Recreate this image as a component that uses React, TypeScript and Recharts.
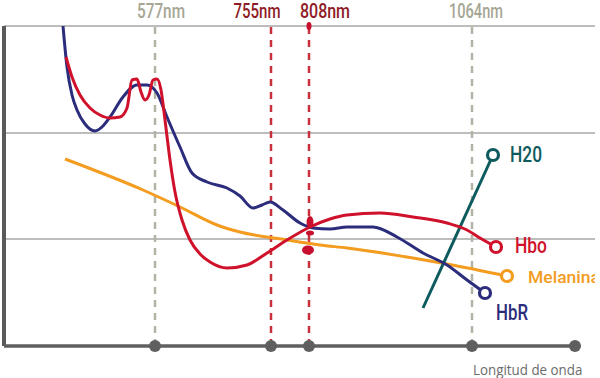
import { LineChart, Line, XAxis, YAxis, ReferenceLine, ReferenceDot } from "recharts";

// x = position along the wavelength axis, y = absorption (grid at ~107, 213, 320)
const hbrX = [59, 63, 68, 73, 81, 91, 99, 106, 119, 133, 143, 153, 163, 176, 188, 203, 223, 236, 249, 258, 266, 279, 296, 309, 326, 343, 369, 393, 419, 443, 463, 481];
const hbrY = [320, 279, 251, 236, 222, 215, 220, 229, 249, 261, 261, 253, 229, 199, 173, 164, 158, 150, 138, 141, 144, 136, 123, 118, 117, 119, 119, 109, 93, 81, 66, 53];

const hboX = [62, 68, 76, 86, 96, 106, 116, 123, 128, 133, 137, 141, 145, 149, 153, 157, 161, 166, 171, 178, 186, 196, 206, 223, 243, 263, 283, 306, 326, 343, 376, 409, 443, 463, 476, 492];
const hboY = [289, 269, 251, 238, 231, 228, 229, 238, 266, 267, 254, 246, 251, 266, 267, 256, 226, 186, 154, 126, 106, 92, 84, 78, 81, 93, 106, 119, 127, 131, 133, 129, 123, 116, 108, 99];

const melX = [61, 139, 176, 213, 236, 283, 316, 343, 409, 443, 503];
const melY = [187, 156, 139, 121, 114, 106, 101, 98, 88, 82, 70];

const h2oX = [419, 489];
const h2oY = [38, 191];

const gridY = [107, 213, 320];
const axisDots = [151, 267, 305, 468, 571];
const markers = [
  { x: 151, label: "577nm", shift: 6, width: 48, color: "#b3b3a5", text: "#a6a694" },
  { x: 267, label: "755nm", shift: -14, width: 47, color: "#c8303c", text: "#8e1b25" },
  { x: 305, label: "808nm", shift: 16, width: 50, color: "#c8303c", text: "#8e1b25" },
  { x: 468, label: "1064nm", shift: 4, width: 54, color: "#b3b3a5", text: "#a6a694" },
];

const zip = (xs: number[], ys: number[]) => xs.map((x, i) => ({ x, y: ys[i] }));

const font = "Roboto, sans-serif";

function endDot(color: string, label: string, last: number, dx: number, dy: number, size: number, width: number) {
  return (p: any) => {
    if (p.index !== last) return <g key={p.index} />;
    return (
      <g key={p.index}>
        <circle cx={p.cx} cy={p.cy} r={5.5} fill="#fff" stroke={color} strokeWidth={3.2} />
        <text
          x={p.cx + dx}
          y={p.cy + dy}
          fill={color}
          fontSize={size}
          fontWeight={500}
          fontFamily={font}
          textLength={width}
          lengthAdjust="spacingAndGlyphs"
        >
          {label}
        </text>
      </g>
    );
  };
}

export default function App() {
  const hbr = zip(hbrX, hbrY);
  const hbo = zip(hboX, hboY);
  const mel = zip(melX, melY);
  const h2o = zip(h2oX, h2oY);

  return (
    <div style={{ position: "absolute", left: 0, top: 0, width: 600, height: 378, background: "#fff" }}>
      <LineChart width={600} height={378} margin={{ top: 26, right: 5, left: 4, bottom: 32 }}>
        <XAxis type="number" dataKey="x" domain={[0, 591]} hide allowDataOverflow />
        <YAxis type="number" dataKey="y" domain={[0, 320]} hide allowDataOverflow />

        {gridY.map((y) => (
          <ReferenceLine key={y} y={y} stroke="#bdbdbd" strokeWidth={2} />
        ))}

        {markers.map((m) => (
          <ReferenceLine
            key={m.x}
            x={m.x}
            stroke={m.color}
            strokeWidth={2.5}
            strokeDasharray="7 6"
            label={{
              content: (p: any) => (
                <text
                  x={p.viewBox.x + m.shift}
                  y={17.5}
                  textAnchor="middle"
                  fill={m.text}
                  fontSize={20}
                  fontWeight={500}
                  fontFamily={font}
                  textLength={m.width}
                  lengthAdjust="spacingAndGlyphs"
                >
                  {m.label}
                </text>
              ),
            }}
          />
        ))}

        <Line data={mel} dataKey="y" type="monotone" stroke="#f39c1f" strokeWidth={3}
          dot={endDot("#f39c1f", "Melanina", mel.length - 1, 21, 7, 17, 72)} activeDot={false} isAnimationActive={false} />
        <Line data={h2o} dataKey="y" type="linear" stroke="#0d5b5e" strokeWidth={3}
          dot={endDot("#0d5b5e", "H20", h2o.length - 1, 17, 7, 22, 32)} activeDot={false} isAnimationActive={false} />
        <Line data={hbr} dataKey="y" type="monotone" stroke="#2b2c7c" strokeWidth={3}
          dot={endDot("#2b2c7c", "HbR", hbr.length - 1, 11, 27, 22, 32)} activeDot={false} isAnimationActive={false} />
        <Line data={hbo} dataKey="y" type="monotone" stroke="#d0112b" strokeWidth={3}
          dot={endDot("#d0112b", "Hbo", hbo.length - 1, 19, 6, 22, 32)} activeDot={false} isAnimationActive={false} />

        <ReferenceDot x={306} y={124} r={5} fill="#c8102e" stroke="none"
          shape={(p: any) => <ellipse cx={p.cx} cy={p.cy} rx={3.5} ry={6} fill="#c8102e" />} />
        <ReferenceDot x={306} y={113} r={3} fill="#c8102e" stroke="none"
          shape={(p: any) => <ellipse cx={p.cx} cy={p.cy} rx={4} ry={2.5} fill="#c8102e" />} />
        <ReferenceDot x={304} y={96} r={5} fill="#c8102e" stroke="none"
          shape={(p: any) => <ellipse cx={p.cx} cy={p.cy} rx={6} ry={4.5} fill="#c8102e" />} />
        <ReferenceDot x={305} y={320} r={3} fill="#c8102e" stroke="none"
          shape={(p: any) => <ellipse cx={p.cx} cy={p.cy} rx={2.5} ry={4} fill="#c8102e" />} />

        <ReferenceLine segment={[{ x: 0, y: 0 }, { x: 0, y: 320 }]} stroke="#5a5a5a" strokeWidth={4} />
        <ReferenceLine segment={[{ x: 0, y: 0 }, { x: 571, y: 0 }]} stroke="#5f5f5f" strokeWidth={3.5} />
        {axisDots.map((x) => (
          <ReferenceDot key={x} x={x} y={0} r={6} fill="#5f5f5f" stroke="none" />
        ))}
      </LineChart>
      <div
        style={{
          position: "absolute",
          left: 473,
          top: 362,
          fontFamily: '"Open Sans", sans-serif',
          fontSize: 15,
          lineHeight: "15px",
          color: "#6b6b6b",
          whiteSpace: "nowrap",
          transform: "scaleX(0.89)",
          transformOrigin: "left top",
        }}
      >
        Longitud de onda
      </div>
    </div>
  );
}
